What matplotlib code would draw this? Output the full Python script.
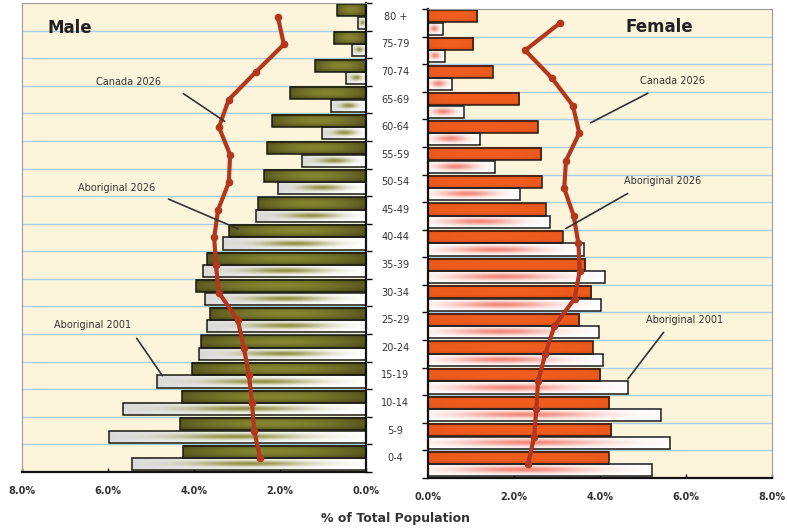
import numpy as np
import matplotlib
matplotlib.use("Agg")
import matplotlib.pyplot as plt
from matplotlib.patches import Rectangle

ages = ['0-4', '5-9', '10-14', '15-19', '20-24', '25-29', '30-34', '35-39',
        '40-44', '45-49', '50-54', '55-59', '60-64', '65-69', '70-74', '75-79', '80 +']

# % of total population, 0-4 first
male_abo_2026 = [4.26, 4.33, 4.28, 4.05, 3.84, 3.63, 3.95, 3.70, 3.19, 2.51, 2.37, 2.30, 2.19, 1.77, 1.19, 0.74, 0.67]
male_abo_2001 = [5.44, 5.98, 5.65, 4.86, 3.88, 3.70, 3.74, 3.79, 3.32, 2.56, 2.04, 1.49, 1.03, 0.81, 0.47, 0.33, 0.19]
male_can_2026 = [2.46, 2.60, 2.65, 2.72, 2.84, 2.98, 3.42, 3.49, 3.53, 3.44, 3.19, 3.16, 3.42, 3.19, 2.56, 1.91, 2.05]

female_abo_2026 = [4.20, 4.26, 4.22, 4.01, 3.83, 3.52, 3.80, 3.66, 3.13, 2.74, 2.65, 2.63, 2.55, 2.12, 1.51, 1.05, 1.14]
female_abo_2001 = [5.21, 5.63, 5.42, 4.65, 4.08, 3.98, 4.03, 4.11, 3.62, 2.83, 2.15, 1.55, 1.22, 0.84, 0.56, 0.39, 0.34]
female_can_2026 = [2.33, 2.47, 2.52, 2.56, 2.73, 2.94, 3.41, 3.53, 3.50, 3.39, 3.17, 3.21, 3.52, 3.37, 2.88, 2.26, 3.08]

xticks = [0, 2, 4, 6, 8]

BG = '#fcf5dc'
GRID = '#aacde6'
LINE_RED = '#b3371d'


def bar_image(kind, n=80, m=20):
    # t runs from the axis (0) to the end of the bar (1)
    t = np.linspace(0, 1, n)
    v = np.linspace(-1, 1, m)
    T, V = np.meshgrid(t, v)
    if kind == 'male_dark':
        dark = np.array([0.17, 0.17, 0.05])
        light = np.array([0.52, 0.52, 0.19])
        L = (1 - 0.5 * V ** 2) * (0.4 + 0.6 * np.sin(np.pi * (0.06 + 0.86 * T)))
        img = dark + (light - dark) * L[..., None]
    elif kind == 'male_white':
        olive = np.array([0.50, 0.50, 0.14])
        S = np.exp(-((T - 0.5) / 0.26) ** 2) * np.exp(-(V / 0.45) ** 2) * 0.85
        shade = 0.14 * T ** 2
        img = (1 - S[..., None]) * (1 - shade[..., None]) + olive * S[..., None]
    elif kind == 'female_dark':
        dark = np.array([0.78, 0.25, 0.05])
        light = np.array([0.94, 0.37, 0.12])
        L = (1 - 0.8 * V ** 4) * (0.8 + 0.2 * np.sin(np.pi * (0.1 + 0.8 * T)))
        img = dark + (light - dark) * L[..., None]
    else:
        red = np.array([0.93, 0.38, 0.30])
        S = np.exp(-((T - 0.42) / 0.30) ** 2) * np.exp(-(V / 0.55) ** 2) * 0.75
        img = (1 - S[..., None]) + red * S[..., None]
    return np.clip(img, 0, 1)


def draw_bars(ax, values, offset, kind, edge):
    img = bar_image(kind)
    h = 0.44
    for i, val in enumerate(values):
        y0 = i + offset - h / 2
        ax.imshow(img, extent=(0, val, y0, y0 + h), aspect='auto',
                  interpolation='bilinear', zorder=2)
        ax.add_patch(Rectangle((0, y0), val, h, fill=False, ec=edge, lw=1.1, zorder=2.5))


def setup(ax, side):
    ax.set_facecolor(BG)
    for k in range(len(ages) - 1):
        ax.axhline(k + 0.5, color=GRID, lw=1.0, zorder=0.5)
    ax.set_ylim(-0.5, len(ages) - 0.5)
    ax.set_xticks(xticks)
    ax.set_xticklabels(['%.1f%%' % x for x in xticks], fontsize=7, color='#333333',
                       fontweight='bold')
    ax.tick_params(axis='x', direction='in', length=3, pad=10, width=1)
    ax.set_yticks(np.arange(-0.5, len(ages), 1))
    ax.set_yticklabels([])
    for s in ax.spines.values():
        s.set_color('#9a9a9a')
        s.set_linewidth(0.8)
    ax.spines['bottom'].set_color('#111111')
    ax.spines['bottom'].set_linewidth(1.6)
    ax.spines[side].set_color('#111111')
    ax.spines[side].set_linewidth(1.6)
    if side == 'right':
        ax.yaxis.tick_right()
    ax.tick_params(axis='y', direction='out', length=4, width=1)


def note(ax, label, txt_xy, start, end):
    ax.text(txt_xy[0], txt_xy[1], label, fontsize=7, color='#333333',
            ha='center', va='center', zorder=5)
    ax.annotate('', xy=end, xytext=start,
                arrowprops=dict(arrowstyle='-', color='#333333', lw=1.2), zorder=5)


fig = plt.figure(figsize=(7.87, 5.30), dpi=100)
ax_m = fig.add_axes([0.028, 0.1094, 0.437, 0.885])
ax_f = fig.add_axes([0.5438, 0.0981, 0.437, 0.885])

y = np.arange(len(ages))

# male
setup(ax_m, 'right')
draw_bars(ax_m, male_abo_2026, 0.23, 'male_dark', '#1a1a10')
draw_bars(ax_m, male_abo_2001, -0.22, 'male_white', '#1a1a10')
ax_m.plot(male_can_2026, y, color=LINE_RED, lw=3.0, marker='o', ms=4.5,
          solid_capstyle='round', solid_joinstyle='round', zorder=4)
ax_m.set_xlim(8, 0)
ax_m.text(0.073, 0.947, 'Male', transform=ax_m.transAxes, fontsize=12,
          fontweight='bold', color='#222222', va='center')
note(ax_m, 'Canada 2026', (5.53, 13.63), (4.30, 13.27), (3.23, 12.15))
note(ax_m, 'Aboriginal 2026', (5.81, 9.79), (4.65, 9.43), (2.91, 8.27))
note(ax_m, 'Aboriginal 2001', (6.35, 4.83), (5.37, 4.43), (4.70, 2.91))

# female
setup(ax_f, 'left')
draw_bars(ax_f, female_abo_2026, 0.23, 'female_dark', '#2a1a10')
draw_bars(ax_f, female_abo_2001, -0.22, 'female_white', '#1a1a1a')
ax_f.plot(female_can_2026, y, color=LINE_RED, lw=3.0, marker='o', ms=4.5,
          solid_capstyle='round', solid_joinstyle='round', zorder=4)
ax_f.set_xlim(0, 8)
ax_f.text(0.674, 0.962, 'Female', transform=ax_f.transAxes, fontsize=12,
          fontweight='bold', color='#222222', va='center', ha='center')
note(ax_f, 'Canada 2026', (5.68, 13.88), (5.17, 13.49), (3.73, 12.33))
note(ax_f, 'Aboriginal 2026', (5.45, 10.26), (4.70, 9.86), (3.15, 8.49))
note(ax_f, 'Aboriginal 2001', (5.96, 5.22), (5.52, 4.86), (4.61, 3.01))

# age labels between the panels
for i, a in enumerate(ages):
    ax_m.text(1.085, i, a, transform=ax_m.get_yaxis_transform(), fontsize=7,
              color='#333333', ha='center', va='center', clip_on=False)

fig.text(0.502, 0.022, '% of Total Population', ha='center', va='center',
         fontsize=9, fontweight='bold', color='#333333')

fig.savefig('out.png', dpi=100, facecolor='white')
